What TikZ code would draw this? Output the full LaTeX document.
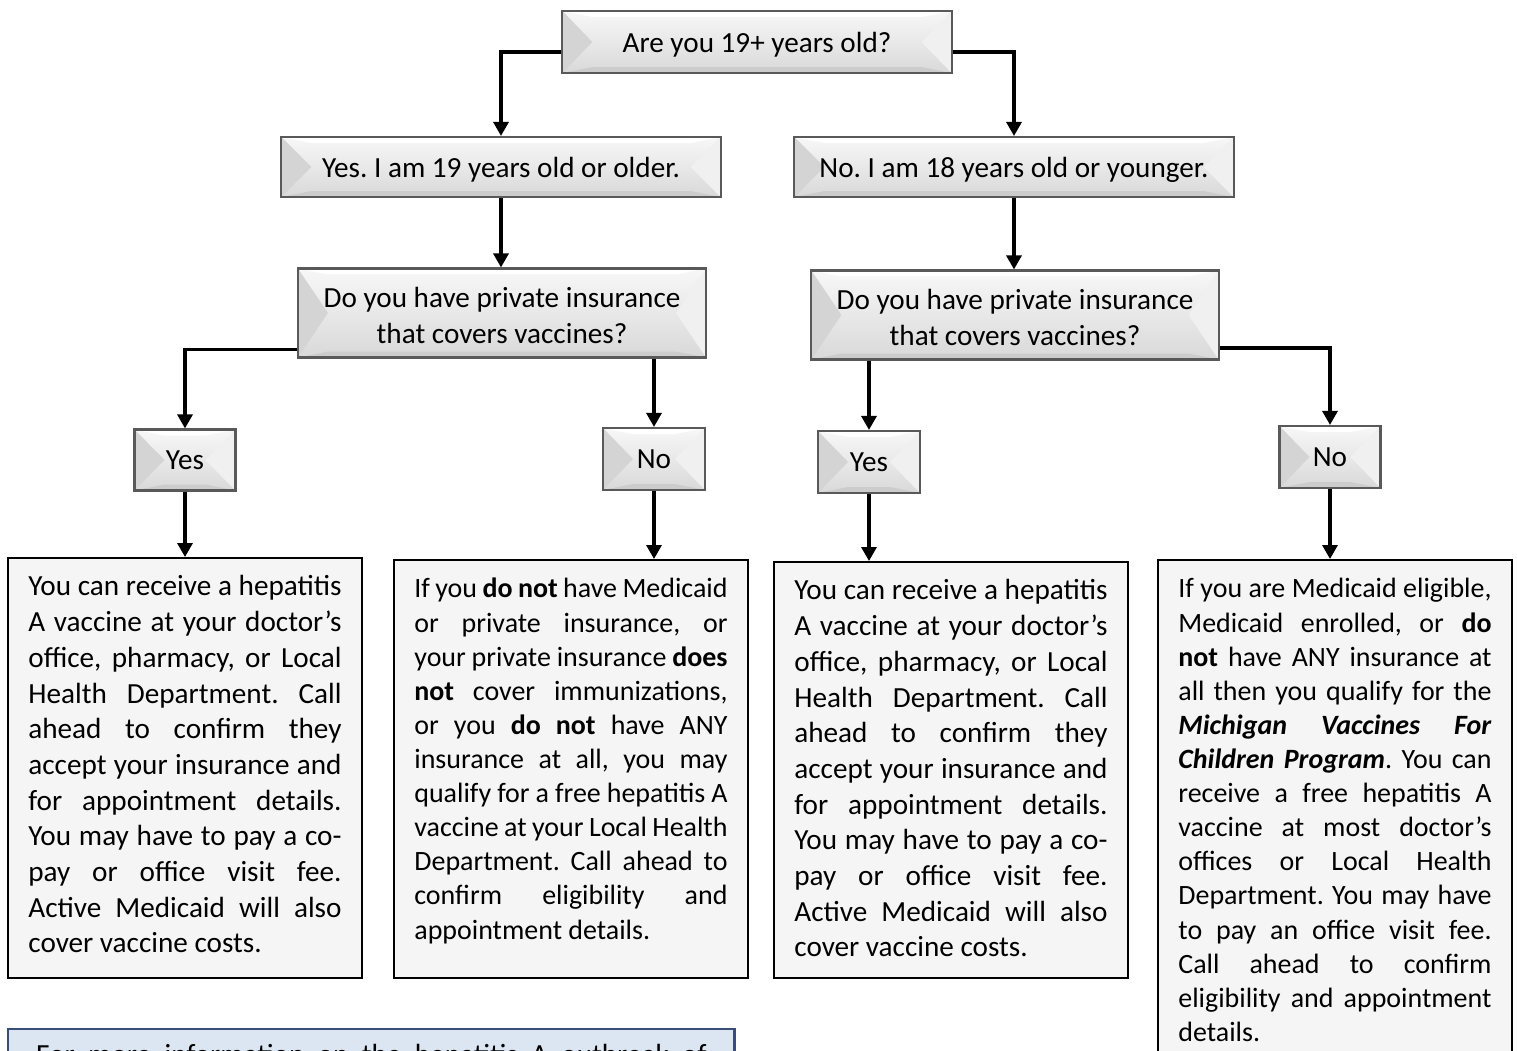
\documentclass[tikz,border=0pt]{standalone}
\usepackage{fontspec}
\setmainfont{Carlito}
\usetikzlibrary{arrows.meta}
\frenchspacing
\hyphenpenalty=10000
\newcommand{\fsz}{\fontsize{8.3}{10.15}\selectfont}
\newcommand{\fszb}{\fontsize{7.95}{9.7}\selectfont}
\definecolor{noteblue}{RGB}{220,230,242}
\definecolor{noteline}{RGB}{56,78,118}
\tikzset{>={Triangle[length=0.14cm,width=0.15cm]}}
\tikzset{
    bevelbox/.style={draw=gray!70!black, line width=0.6pt, top color=gray!6, bottom color=gray!30,
        font=\fsz, inner sep=0pt, align=center, text depth=0pt,
        path picture={
            \fill[gray!34] (path picture bounding box.north west) -- ([xshift=0.3cm]path picture bounding box.west)
                -- (path picture bounding box.south west) -- cycle;
            \fill[gray!12] (path picture bounding box.north east) -- ([xshift=-0.3cm]path picture bounding box.east)
                -- (path picture bounding box.south east) -- cycle;
            \fill[white] (path picture bounding box.north west) -- (path picture bounding box.north east)
                -- ([xshift=-0.3cm,yshift=-0.06cm]path picture bounding box.north east)
                -- ([xshift=0.3cm,yshift=-0.06cm]path picture bounding box.north west) -- cycle;
            \fill[gray!40] (path picture bounding box.south west) -- (path picture bounding box.south east)
                -- ([xshift=-0.3cm,yshift=0.06cm]path picture bounding box.south east)
                -- ([xshift=0.3cm,yshift=0.06cm]path picture bounding box.south west) -- cycle;
        }},
    twoline/.style={text height=0.6cm, text depth=0pt},
    infobox/.style={draw, line width=0.5pt, fill=gray!8, anchor=north west, font=\fsz,
        text width=3.13cm, align=justify, inner xsep=0.205cm, inner ysep=0.14cm, text height=0.24cm},
    link/.style={->, line width=0.9pt}
}
\begin{document}
\begin{tikzpicture}[x=0.01cm,y=-0.01cm]
    \useasboundingbox (0,0) rectangle (1517,1050);
    \clip (0,0) rectangle (1517,1050);
    % questions and answers
    \node[bevelbox, minimum width=3.89cm, minimum height=0.62cm] (age) at (757,42) {Are you 19+ years old?};
    \node[bevelbox, minimum width=4.39cm, minimum height=0.60cm] (yes19) at (501,167) {Yes. I am 19 years old or older.};
    \node[bevelbox, minimum width=4.39cm, minimum height=0.60cm] (no18) at (1014,167) {No. I am 18 years old or younger.};
    \node[bevelbox, twoline, minimum width=4.08cm, minimum height=0.89cm] (ins19) at (502,313) {Do you have private insurance\\that covers vaccines?};
    \node[bevelbox, twoline, minimum width=4.07cm, minimum height=0.89cm] (ins18) at (1015,315) {Do you have private insurance\\that covers vaccines?};
    \node[bevelbox, minimum width=1.01cm, minimum height=0.61cm] (yes19a) at (185,460) {Yes};
    \node[bevelbox, minimum width=1.02cm, minimum height=0.62cm] (no19a) at (654,459) {No};
    \node[bevelbox, minimum width=1.02cm, minimum height=0.62cm] (yes18a) at (869,462) {Yes};
    \node[bevelbox, minimum width=1.01cm, minimum height=0.62cm] (no18a) at (1330,457) {No};
    % details
    \node[infobox, text depth=3.68cm] (info19y) at (7,557) {You can receive a hepatitis\linebreak
        A vaccine at your doctor's\linebreak office, pharmacy, or Local\linebreak
        Health Department. Call\linebreak ahead to confirm they\linebreak
        accept your insurance and\linebreak for appointment details.\linebreak
        You may have to pay a co-\linebreak pay or office visit fee.\linebreak
        Active Medicaid will also\linebreak cover vaccine costs.};
    \node[infobox, font=\fszb, text depth=3.66cm] (info19n) at (393,559) {If you \textbf{do not} have Medicaid\linebreak
        or private insurance, or\linebreak your private insurance \textbf{does}\linebreak
        \textbf{not} cover immunizations,\linebreak or you \textbf{do not} have ANY\linebreak
        insurance at all, you may\linebreak qualify for a free hepatitis A\linebreak
        vaccine at your Local Health\linebreak Department. Call ahead to\linebreak
        confirm eligibility and\linebreak appointment details.};
    \node[infobox, text depth=3.64cm] (info18y) at (773,561) {You can receive a hepatitis\linebreak
        A vaccine at your doctor's\linebreak office, pharmacy, or Local\linebreak
        Health Department. Call\linebreak ahead to confirm they\linebreak
        accept your insurance and\linebreak for appointment details.\linebreak
        You may have to pay a co-\linebreak pay or office visit fee.\linebreak
        Active Medicaid will also\linebreak cover vaccine costs.};
    \node[infobox, font=\fszb, text depth=4.64cm] (info18n) at (1157,559) {If you are Medicaid eligible,\linebreak
        Medicaid enrolled, or \textbf{do}\linebreak \textbf{not} have ANY insurance at\linebreak
        all then you qualify for the\linebreak \textbf{\textit{Michigan Vaccines For}}\linebreak
        \textbf{\textit{Children Program}}. You can\linebreak receive a free hepatitis A\linebreak
        vaccine at most doctor's\linebreak offices or Local Health\linebreak
        Department. You may have\linebreak to pay an office visit fee.\linebreak
        Call ahead to confirm\linebreak eligibility and appointment\linebreak details.};
    \node[draw=noteline, fill=noteblue, line width=0.7pt, anchor=north west, font=\fsz,
        text width=6.7cm, align=justify, inner xsep=0.28cm, inner ysep=0.15cm,
        text height=0.2cm, text depth=0.5cm] (more) at (7,1028)
        {For more information on the hepatitis A outbreak of\linebreak};
    % connectors
    \draw[link] ([yshift=-0.1cm]age.west) -| (yes19.north);
    \draw[link] ([yshift=-0.1cm]age.east) -| (no18.north);
    \draw[link] (yes19.south) -- (ins19.north -| yes19);
    \draw[link] (no18.south) -- (ins18.north -| no18);
    \draw[link] ([yshift=-0.365cm]ins19.west) -| (yes19a.north);
    \draw[link] (no19a |- ins19.south) -- (no19a.north);
    \draw[link] (yes18a |- ins18.south) -- (yes18a.north);
    \draw[link] ([yshift=-0.33cm]ins18.east) -| (no18a.north);
    \draw[link] (yes19a.south) -- (yes19a |- info19y.north);
    \draw[link] (no19a.south) -- (no19a |- info19n.north);
    \draw[link] (yes18a.south) -- (yes18a |- info18y.north);
    \draw[link] (no18a.south) -- (no18a |- info18n.north);
\end{tikzpicture}
\end{document}
